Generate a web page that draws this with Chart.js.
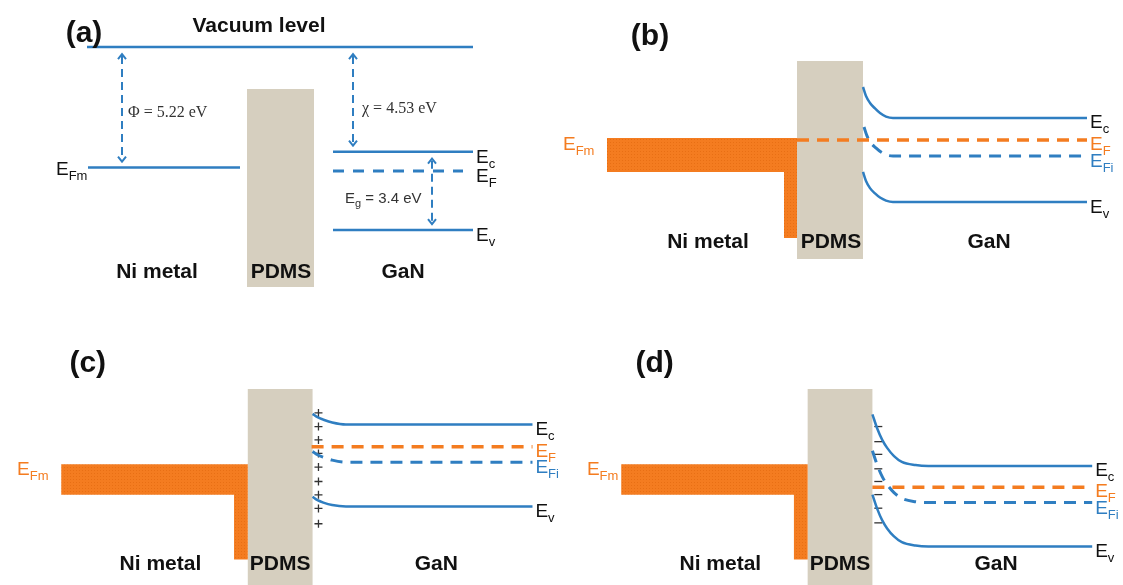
<!DOCTYPE html>
<html>
<head>
<meta charset="utf-8">
<title>Ni / PDMS / GaN energy band diagrams</title>
<script src="https://cdn.jsdelivr.net/npm/chart.js@4.4.0/dist/chart.umd.min.js"></script>
<style>
  html, body { margin: 0; padding: 0; background: #ffffff; }
  #fig { position: relative; width: 1123px; height: 585px; overflow: hidden; background: #ffffff; }
  #fig canvas { position: absolute; }
</style>
</head>
<body>
<div id="fig">
  <canvas id="panelA" width="580" height="292" style="left:0;top:0"></canvas>
  <canvas id="panelC" width="580" height="293" style="left:0;top:292px"></canvas>
  <canvas id="panelB" width="562" height="292" style="left:561px;top:0"></canvas>
  <canvas id="panelD" width="562" height="293" style="left:561px;top:292px"></canvas>
</div>
<script>
// ---------------------------------------------------------------
// Data: x = position across the Ni | PDMS | GaN stack (a.u.),
//       y = electron energy (eV, schematic, vacuum level = 0 in (a))
// ---------------------------------------------------------------
const REGION_NAMES = ['Ni metal', 'PDMS', 'GaN'];

// (a) materials before contact
const PHI_NI = 5.22;          // Ni work function (eV)
const CHI_GAN = 4.53;         // GaN electron affinity (eV)
const EG_GAN = 3.4;           // GaN band gap (eV)
const EF_GAN_A = -5.37;       // GaN Fermi level
const A_VACUUM_X = [87, 473];
const A_METAL_X = [88, 240];
const A_GAN_X = [333, 473];
const A_EF_X = [333, 463];
const A_PDMS = [247, 314, -10.39, -1.82];

// (b) contact, equilibrium
const B_PDMS = [236, 302, -11.22, -2.64];
const B_METAL = [46, 236, 223, -5.98, -7.45, -10.31];   // x0, x1, legX, top, bottom, legBottom
const B_EF = -6.07;
const B_EF_X = [236, 526];
const B_BAND_X = [302, 305, 309, 314, 319, 325, 332, 526];
const B_EC = [-3.77, -4.16, -4.46, -4.70, -4.90, -5.05, -5.11, -5.11];
const B_EV = [-7.45, -7.84, -8.15, -8.38, -8.56, -8.69, -8.75, -8.75];
const B_EFI_X = [303, 306, 310, 315, 320, 326, 332, 526];
const B_EFI = [-5.50, -5.89, -6.20, -6.41, -6.59, -6.72, -6.76, -6.76];

// (c) positive surface charge
const C_PDMS = [247, 313, -14, -4.12];
const C_METAL = [57, 247, 233, -7.50, -8.88, -11.79];
const C_EF = -6.72;
const C_EF_X = [312, 537];
const C_BAND_X = [313, 318, 324, 333, 347, 537];
const C_EC = [-5.24, -5.39, -5.50, -5.63, -5.72, -5.72];
const C_EV = [-8.97, -9.12, -9.23, -9.34, -9.40, -9.40];
const C_EFI = [-6.93, -7.08, -7.19, -7.32, -7.41, -7.41];
const C_CHARGE_X = 319;
const C_CHARGES = [-5.20, -5.81, -6.41, -7.02, -7.63, -8.28, -8.88, -9.49, -10.18];

// (d) negative surface charge
const D_PDMS = [246, 312, -14, -4.12];
const D_METAL = [56, 246, 232, -7.50, -8.88, -11.79];
const D_EF = -8.54;
const D_EF_X = [312, 536];
const D_BAND_X = [312, 317, 322, 327, 334, 342, 356, 369, 536];
const D_EC = [-5.26, -5.91, -6.41, -6.77, -7.14, -7.40, -7.54, -7.58, -7.58];
const D_EV = [-8.87, -9.52, -10.03, -10.39, -10.75, -11.01, -11.16, -11.20, -11.20];
const D_EFI = [-6.90, -7.55, -8.06, -8.42, -8.78, -9.04, -9.19, -9.23, -9.23];
const D_CHARGE_X = 318;
const D_CHARGES = [-5.81, -6.49, -7.06, -7.71, -8.28, -8.87, -9.48, -10.14];

// ---------------------------------------------------------------
// Styles
// ---------------------------------------------------------------
const BLUE = '#2f7ec1';
const ORANGE = '#f47c20';
const PDMS_FILL = '#d6cfbf';
const INK = '#111111';
const SANS = '"Liberation Sans", Arial, Helvetica, sans-serif';
const SERIF = '"Liberation Serif", "Times New Roman", serif';
const PX_PER_EV = 23.08;

// Speckled orange fill for the metal band
function metalPattern() {
  const c = document.createElement('canvas');
  c.width = 3; c.height = 3;
  const g = c.getContext('2d');
  g.fillStyle = ORANGE; g.fillRect(0, 0, 3, 3);
  g.fillStyle = '#e86f14'; g.fillRect(1, 1, 1, 1);
  return g.canvas;
}

function rectShape(r) {
  const [x0, x1, e0, e1] = r;
  return [[x0, e1], [x1, e1], [x1, e0], [x0, e0]];
}
function metalShape(m) {
  const [x0, x1, legX, top, bottom, legBottom] = m;
  return [[x0, top], [x1, top], [x1, legBottom], [legX, legBottom], [legX, bottom], [x0, bottom]];
}

// Dataset helpers
function path(xs, es, color, width, dash) {
  return {
    data: xs.map((x, i) => ({ x: x, y: es[i] })),
    showLine: true,
    borderColor: color,
    borderWidth: width,
    borderDash: dash || [],
    borderCapStyle: 'butt',
    pointRadius: 0,
    cubicInterpolationMode: 'monotone',
    fill: false,
    clip: false
  };
}
function level(xs, e, color, width, dash) {
  return path(xs, [e, e], color, width, dash);
}
function charges(x, es, style) {
  return {
    data: es.map(e => ({ x: x, y: e })),
    showLine: false,
    pointStyle: style,
    pointRadius: 4,
    borderColor: '#333333',
    backgroundColor: '#333333',
    borderWidth: 1.3,
    clip: false
  };
}

// Blocks, arrows and text drawn through the chart scales
function diagramPlugin(spec) {
  const pattern = metalPattern();
  return {
    id: 'diagram',
    beforeDatasetsDraw(chart) {
      const { ctx, scales: { x, y } } = chart;
      ctx.save();
      (spec.blocks || []).forEach(b => {
        ctx.fillStyle = b.metal ? ctx.createPattern(pattern, 'repeat') : b.fill;
        ctx.beginPath();
        b.points.forEach(([px, e], i) => {
          const X = x.getPixelForValue(px), Y = y.getPixelForValue(e);
          if (i) ctx.lineTo(X, Y); else ctx.moveTo(X, Y);
        });
        ctx.closePath();
        ctx.fill();
      });
      ctx.restore();
    },
    afterDatasetsDraw(chart) {
      const { ctx, scales: { x, y } } = chart;
      ctx.save();
      // double-headed dashed arrows
      (spec.arrows || []).forEach(a => {
        const X = x.getPixelForValue(a.x);
        const Y0 = y.getPixelForValue(a.from) + 7;
        const Y1 = y.getPixelForValue(a.to) - 6;
        ctx.strokeStyle = BLUE;
        ctx.lineWidth = 2;
        ctx.setLineDash([8, 5]);
        ctx.beginPath(); ctx.moveTo(X, Y0 + 2); ctx.lineTo(X, Y1 - 2); ctx.stroke();
        ctx.setLineDash([]);
        ctx.beginPath();
        ctx.moveTo(X - 4, Y0 + 5); ctx.lineTo(X, Y0); ctx.lineTo(X + 4, Y0 + 5);
        ctx.moveTo(X - 4, Y1 - 5); ctx.lineTo(X, Y1); ctx.lineTo(X + 4, Y1 - 5);
        ctx.stroke();
      });
      // plain text
      ctx.textBaseline = 'alphabetic';
      (spec.texts || []).forEach(t => {
        ctx.font = t.font;
        ctx.fillStyle = t.color || INK;
        ctx.textAlign = t.align || 'center';
        ctx.fillText(t.text, x.getPixelForValue(t.x), y.getPixelForValue(t.e));
      });
      // "E" with subscript
      (spec.labels || []).forEach(l => {
        const size = l.size || 19, sub = l.subSize || 13;
        const X = x.getPixelForValue(l.x);
        const Y = y.getPixelForValue(l.e) + (l.dy || 0);
        ctx.textAlign = 'left';
        ctx.fillStyle = l.color || INK;
        ctx.font = size + 'px ' + SANS;
        ctx.fillText('E', X, Y);
        const w = ctx.measureText('E').width;
        ctx.font = sub + 'px ' + SANS;
        ctx.fillText(l.sub, X + w, Y + Math.round(sub * 0.38));
        if (l.tail) {
          const ws = ctx.measureText(l.sub).width;
          ctx.font = size + 'px ' + SANS;
          ctx.fillText(l.tail, X + w + ws, Y);
        }
      });
      ctx.restore();
    }
  };
}

function regionTexts(xs, e) {
  return REGION_NAMES.map((name, i) => ({ x: xs[i], e: e, text: name, font: 'bold 21px ' + SANS }));
}
function panelTag(text, xPos, e) {
  return { x: xPos, e: e, text: text, font: 'bold 30px ' + SANS };
}

function makePanel(id, top, datasets, spec) {
  const canvas = document.getElementById(id);
  const w = canvas.width, h = canvas.height;
  return new Chart(canvas, {
    type: 'scatter',
    data: { datasets: datasets },
    options: {
      responsive: false,
      animation: false,
      events: [],
      layout: { padding: 0 },
      plugins: { legend: { display: false }, tooltip: { enabled: false } },
      scales: {
        x: { type: 'linear', display: false, min: 0, max: w },
        y: { type: 'linear', display: false, min: top - h / PX_PER_EV, max: top }
      }
    },
    plugins: [diagramPlugin(spec)]
  });
}

// ---------------- (a) ----------------
const A_EC = -CHI_GAN;
const A_EV = -(CHI_GAN + EG_GAN);
const A_EFM = -PHI_NI;
makePanel('panelA', 2.04, [
  level(A_VACUUM_X, 0, BLUE, 2.5),
  level(A_METAL_X, A_EFM, BLUE, 2.5),
  level(A_GAN_X, A_EC, BLUE, 2.5),
  level(A_EF_X, EF_GAN_A, BLUE, 3, [11, 9]),
  level(A_GAN_X, A_EV, BLUE, 2.5)
], {
  blocks: [{ points: rectShape(A_PDMS), fill: PDMS_FILL }],
  arrows: [
    { x: 122, from: 0, to: A_EFM },
    { x: 353, from: 0, to: A_EC },
    { x: 432, from: A_EC, to: A_EV }
  ],
  texts: [
    panelTag('(a)', 84, 0.22),
    { x: 259, e: 0.65, text: 'Vacuum level', font: 'bold 21px ' + SANS },
    { x: 128, e: -3.03, text: '\u03A6 = ' + PHI_NI.toFixed(2) + ' eV', font: '16px ' + SERIF, align: 'left', color: '#333333' },
    { x: 362, e: -2.86, text: '\u03C7 = ' + CHI_GAN.toFixed(2) + ' eV', font: '16px ' + SERIF, align: 'left', color: '#333333' }
  ].concat(regionTexts([157, 281, 403], -10.0)),
  labels: [
    { x: 56, e: A_EFM, sub: 'Fm', dy: 7 },
    { x: 476, e: A_EC, sub: 'c', dy: 11 },
    { x: 476, e: EF_GAN_A, sub: 'F', dy: 11 },
    { x: 476, e: A_EV, sub: 'v', dy: 11 },
    { x: 345, e: -6.76, sub: 'g', size: 15, subSize: 11, tail: ' = ' + EG_GAN + ' eV', color: '#333333' }
  ]
});

// ---------------- (b) ----------------
makePanel('panelB', 0, [
  level(B_EF_X, B_EF, ORANGE, 3.5, [12, 8]),
  path(B_BAND_X, B_EC, BLUE, 2.5),
  path(B_EFI_X, B_EFI, BLUE, 3, [12, 8]),
  path(B_BAND_X, B_EV, BLUE, 2.5)
], {
  blocks: [
    { points: rectShape(B_PDMS), fill: PDMS_FILL },
    { points: metalShape(B_METAL), metal: true }
  ],
  texts: [panelTag('(b)', 89, -1.95)].concat(regionTexts([147, 270, 428], -10.75)),
  labels: [
    { x: 2, e: B_METAL[3], sub: 'Fm', color: ORANGE, dy: 12 },
    { x: 529, e: B_EC[B_EC.length - 1], sub: 'c', dy: 10 },
    { x: 529, e: B_EF, sub: 'F', color: ORANGE, dy: 10 },
    { x: 529, e: B_EFI[B_EFI.length - 1], sub: 'Fi', color: BLUE, dy: 11 },
    { x: 529, e: B_EV[B_EV.length - 1], sub: 'v', dy: 11 }
  ]
});

// ---------------- (c) ----------------
makePanel('panelC', 0, [
  level(C_EF_X, C_EF, ORANGE, 3.5, [12, 8]),
  path(C_BAND_X, C_EC, BLUE, 2.5),
  path(C_BAND_X, C_EFI, BLUE, 3, [12, 8]),
  path(C_BAND_X, C_EV, BLUE, 2.5),
  charges(C_CHARGE_X, C_CHARGES, 'cross')
], {
  blocks: [
    { points: rectShape(C_PDMS), fill: PDMS_FILL },
    { points: metalShape(C_METAL), metal: true }
  ],
  texts: [panelTag('(c)', 84, -3.38)].concat(regionTexts([158, 280, 439], -12.26)),
  labels: [
    { x: 12, e: C_METAL[3], sub: 'Fm', color: ORANGE, dy: 11 },
    { x: 540, e: C_EC[C_EC.length - 1], sub: 'c', dy: 10 },
    { x: 540, e: C_EF, sub: 'F', color: ORANGE, dy: 10 },
    { x: 540, e: C_EFI[C_EFI.length - 1], sub: 'Fi', color: BLUE, dy: 11 },
    { x: 540, e: C_EV[C_EV.length - 1], sub: 'v', dy: 11 }
  ]
});

// ---------------- (d) ----------------
makePanel('panelD', 0, [
  level(D_EF_X, D_EF, ORANGE, 3.5, [12, 8]),
  path(D_BAND_X, D_EC, BLUE, 2.5),
  path(D_BAND_X, D_EFI, BLUE, 3, [12, 8]),
  path(D_BAND_X, D_EV, BLUE, 2.5),
  charges(D_CHARGE_X, D_CHARGES, 'line')
], {
  blocks: [
    { points: rectShape(D_PDMS), fill: PDMS_FILL },
    { points: metalShape(D_METAL), metal: true }
  ],
  texts: [panelTag('(d)', 90, -3.38)].concat(regionTexts([157, 279, 438], -12.26)),
  labels: [
    { x: 21, e: D_METAL[3], sub: 'Fm', color: ORANGE, dy: 11 },
    { x: 539, e: D_EC[D_EC.length - 1], sub: 'c', dy: 10 },
    { x: 539, e: D_EF, sub: 'F', color: ORANGE, dy: 10 },
    { x: 539, e: D_EFI[D_EFI.length - 1], sub: 'Fi', color: BLUE, dy: 11 },
    { x: 539, e: D_EV[D_EV.length - 1], sub: 'v', dy: 11 }
  ]
});
</script>
</body>
</html>
